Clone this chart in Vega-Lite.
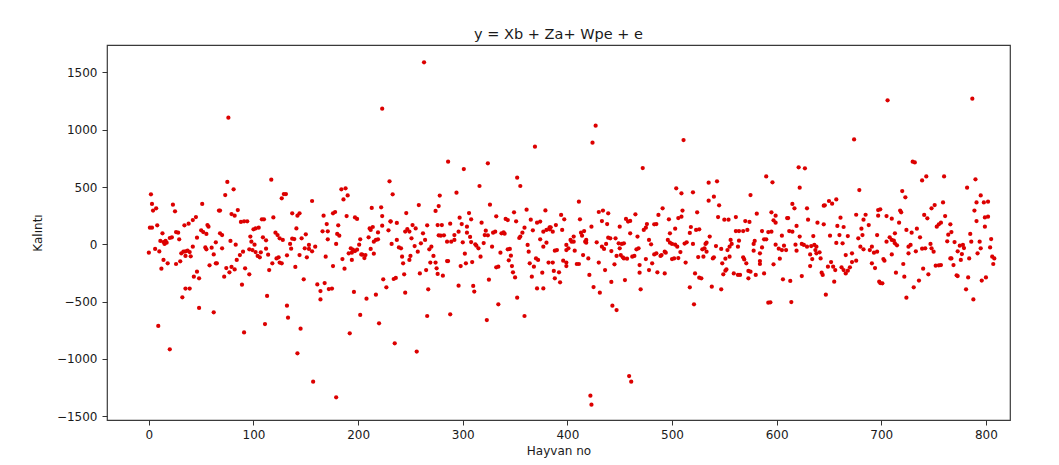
{
"$schema": "https://vega.github.io/schema/vega-lite/v6.json",
"width": 903,
"height": 375,
"autosize": {"type": "none"},
"padding": {"left": 107, "top": 45, "right": 49, "bottom": 45},
"background": "white",
"title": {"text": "y = Xb + Za+ Wpe + e", "font": "DejaVu Sans", "fontSize": 14.5, "fontWeight": "normal", "color": "#1a1a1a", "baseline": "alphabetic", "offset": -8, "anchor": "middle"},
"data": {"values": [
{"n":2,"k":436},{"n":3,"k":352},{"n":4,"k":294},{"n":7,"k":314},{"n":1,"k":145},{"n":3,"k":145},{"n":8,"k":166},{"n":0,"k":-73},{"n":6,"k":-41},{"n":10,"k":-62},{"n":13,"k":96},{"n":11,"k":29},{"n":14,"k":20},{"n":16,"k":29},{"n":17,"k":14},{"n":15,"k":3},{"n":20,"k":55},{"n":22,"k":61},{"n":23,"k":346},{"n":25,"k":288},{"n":26,"k":107},{"n":28,"k":101},{"n":29,"k":43},{"n":12,"k":-213},{"n":14,"k":-137},{"n":18,"k":-166},{"n":26,"k":-172},{"n":30,"k":-149},{"n":31,"k":-79},{"n":33,"k":-65},{"n":35,"k":-102},{"n":37,"k":-56},{"n":39,"k":-68},{"n":35,"k":-62},{"n":40,"k":-105},{"n":42,"k":-21},{"n":34,"k":166},{"n":38,"k":180},{"n":42,"k":212},{"n":45,"k":238},{"n":46,"k":58},{"n":50,"k":122},{"n":52,"k":107},{"n":55,"k":90},{"n":56,"k":168},{"n":57,"k":154},{"n":51,"k":352},{"n":46,"k":-239},{"n":43,"k":-283},{"n":48,"k":-297},{"n":39,"k":-387},{"n":35,"k":-387},{"n":32,"k":-463},{"n":48,"k":-556},{"n":9,"k":-713},{"n":20,"k":-917},{"n":54,"k":-27},{"n":55,"k":-44},{"n":60,"k":-30},{"n":62,"k":-88},{"n":64,"k":17},{"n":58,"k":-184},{"n":64,"k":-166},{"n":65,"k":-166},{"n":62,"k":-594},{"n":67,"k":294},{"n":68,"k":96},
{"n":76,"k":1105},{"n":75,"k":544},{"n":81,"k":480},{"n":73,"k":430},{"n":68,"k":294},{"n":79,"k":264},{"n":82,"k":250},{"n":85,"k":299},{"n":70,"k":81},{"n":70,"k":-35},{"n":78,"k":29},{"n":83,"k":-3},{"n":74,"k":-207},{"n":72,"k":-283},{"n":77,"k":-245},{"n":79,"k":-198},{"n":82,"k":-219},{"n":84,"k":-137},{"n":87,"k":-94},{"n":90,"k":-65},{"n":89,"k":-353},{"n":92,"k":-210},{"n":96,"k":-262},{"n":91,"k":-769},{"n":88,"k":195},{"n":91,"k":201},{"n":94,"k":201},{"n":97,"k":67},{"n":98,"k":23},{"n":96,"k":-44},{"n":100,"k":131},{"n":102,"k":139},{"n":105,"k":145},{"n":101,"k":-3},{"n":99,"k":-50},{"n":102,"k":-68},{"n":104,"k":-102},{"n":106,"k":-114},{"n":107,"k":-70},{"n":109,"k":61},{"n":112,"k":35},{"n":108,"k":218},{"n":110,"k":218},{"n":112,"k":-38},{"n":114,"k":-91},{"n":115,"k":-225},{"n":113,"k":-451},{"n":111,"k":-696},{"n":117,"k":564},{"n":119,"k":235},{"n":121,"k":101},{"n":123,"k":81},{"n":125,"k":52},{"n":128,"k":38},{"n":124,"k":-114},{"n":122,"k":-123},{"n":118,"k":-166},{"n":125,"k":-160},{"n":127,"k":-166},{"n":127,"k":401},{"n":129,"k":439},{"n":131,"k":439},{"n":132,"k":-536},{"n":133,"k":-641},{"n":132,"k":-96},{"n":135,"k":3},{"n":136,"k":-38},{"n":137,"k":49},{"n":139,"k":46},{"n":140,"k":-198},{"n":137,"k":270},{"n":142,"k":250},{"n":144,"k":270},{"n":141,"k":139},{"n":144,"k":-94},{"n":146,"k":52},{"n":145,"k":-737},{"n":142,"k":-952},{"n":148,"k":-306},{"n":150,"k":87},{"n":149,"k":-35},{"n":151,"k":-114},{"n":153,"k":-6},{"n":153,"k":-41},{"n":156,"k":-61},{"n":156,"k":378},{"n":157,"k":-1199},{"n":159,"k":-21},{"n":161,"k":-350},{"n":164,"k":-408},{"n":164,"k":-481},{"n":168,"k":-338},{"n":167,"k":250},{"n":170,"k":177},{"n":171,"k":43},{"n":171,"k":113},{"n":166,"k":113},{"n":169,"k":-108},{"n":172,"k":-391},
{"n":263,"k":1589},{"n":223,"k":1184},{"n":230,"k":550},{"n":233,"k":436},{"n":184,"k":480},{"n":188,"k":489},{"n":186,"k":392},{"n":190,"k":427},{"n":176,"k":270},{"n":178,"k":282},{"n":181,"k":166},{"n":180,"k":90},{"n":182,"k":75},{"n":179,"k":3},{"n":189,"k":247},{"n":197,"k":235},{"n":199,"k":221},{"n":213,"k":317},{"n":222,"k":323},{"n":223,"k":247},{"n":231,"k":201},{"n":237,"k":186},{"n":246,"k":273},{"n":258,"k":343},{"n":195,"k":-47},{"n":194,"k":-73},{"n":193,"k":-35},{"n":191,"k":-79},{"n":194,"k":-137},{"n":185,"k":-129},{"n":187,"k":-213},{"n":176,"k":-190},{"n":175,"k":-387},{"n":196,"k":-416},{"n":192,"k":-777},{"n":202,"k":-617},{"n":179,"k":-1336},{"n":199,"k":-47},{"n":197,"k":-59},{"n":201,"k":-3},{"n":202,"k":43},{"n":204,"k":-91},{"n":203,"k":-88},{"n":206,"k":-120},{"n":207,"k":-94},{"n":208,"k":-475},{"n":210,"k":61},{"n":211,"k":139},{"n":212,"k":125},{"n":214,"k":151},{"n":212,"k":-41},{"n":215,"k":23},{"n":215,"k":-82},{"n":217,"k":38},{"n":219,"k":43},{"n":220,"k":-690},{"n":217,"k":-440},{"n":219,"k":104},{"n":223,"k":163},{"n":224,"k":-306},{"n":227,"k":-376},{"n":229,"k":122},{"n":231,"k":198},{"n":232,"k":3},{"n":234,"k":-303},{"n":236,"k":-294},{"n":235,"k":-865},{"n":237,"k":38},{"n":239,"k":-27},{"n":241,"k":-35},{"n":242,"k":-108},{"n":243,"k":-166},{"n":245,"k":111},{"n":247,"k":133},{"n":249,"k":111},{"n":244,"k":-262},{"n":245,"k":-422},{"n":251,"k":52},{"n":250,"k":-102},{"n":249,"k":-137},{"n":252,"k":168},{"n":255,"k":139},{"n":254,"k":-15},{"n":257,"k":-64},{"n":260,"k":9},{"n":259,"k":-254},{"n":256,"k":-937},{"n":262,"k":96},{"n":264,"k":38},{"n":265,"k":-225},{"n":266,"k":166},{"n":266,"k":-626},{"n":268,"k":-44},{"n":270,"k":-21},{"n":272,"k":-102},{"n":267,"k":-393},{"n":269,"k":-160},{"n":274,"k":-160},{"n":275,"k":-210},{"n":276,"k":-259},{"n":278,"k":425},{"n":277,"k":334},{"n":274,"k":291},{"n":277,"k":78},{"n":276,"k":168},
{"n":369,"k":852},{"n":286,"k":721},{"n":301,"k":657},{"n":324,"k":707},{"n":352,"k":582},{"n":355,"k":509},{"n":316,"k":509},{"n":294,"k":451},{"n":326,"k":346},{"n":306,"k":273},{"n":297,"k":232},{"n":308,"k":218},{"n":280,"k":168},{"n":288,"k":180},{"n":299,"k":177},{"n":318,"k":189},{"n":332,"k":244},{"n":341,"k":221},{"n":343,"k":212},{"n":349,"k":279},{"n":351,"k":201},{"n":361,"k":302},{"n":365,"k":215},{"n":371,"k":189},{"n":374,"k":198},{"n":379,"k":296},{"n":282,"k":78},{"n":279,"k":75},{"n":292,"k":81},{"n":296,"k":110},{"n":304,"k":154},{"n":304,"k":101},{"n":307,"k":64},{"n":322,"k":119},{"n":324,"k":78},{"n":321,"k":81},{"n":329,"k":101},{"n":331,"k":110},{"n":337,"k":96},{"n":339,"k":104},{"n":340,"k":93},{"n":354,"k":55},{"n":355,"k":67},{"n":357,"k":101},{"n":359,"k":145},{"n":367,"k":122},{"n":374,"k":43},{"n":377,"k":110},{"n":380,"k":125},{"n":383,"k":148},{"n":285,"k":23},{"n":289,"k":23},{"n":292,"k":38},{"n":300,"k":17},{"n":308,"k":20},{"n":312,"k":0},{"n":313,"k":-12},{"n":315,"k":-35},{"n":320,"k":11},{"n":328,"k":-21},{"n":362,"k":-6},{"n":377,"k":-21},{"n":380,"k":14},{"n":281,"k":-274},{"n":285,"k":-146},{"n":286,"k":-146},{"n":302,"k":-82},{"n":309,"k":-155},{"n":303,"k":-166},{"n":298,"k":-190},{"n":317,"k":-108},{"n":336,"k":-73},{"n":343,"k":-44},{"n":345,"k":-41},{"n":346,"k":-99},{"n":344,"k":-140},{"n":347,"k":-190},{"n":348,"k":-245},{"n":350,"k":-289},{"n":363,"k":-64},{"n":364,"k":-166},{"n":370,"k":-123},{"n":372,"k":-137},{"n":368,"k":-195},{"n":366,"k":-283},{"n":376,"k":-248},{"n":382,"k":-160},{"n":332,"k":-201},{"n":334,"k":-195},{"n":325,"k":-309},{"n":334,"k":-524},{"n":296,"k":-361},{"n":310,"k":-364},{"n":311,"k":-413},{"n":352,"k":-466},{"n":288,"k":-611},{"n":323,"k":-661},{"n":359,"k":-626},{"n":371,"k":-385},{"n":377,"k":-385},
{"n":427,"k":1036},{"n":424,"k":887},{"n":472,"k":666},{"n":411,"k":372},{"n":394,"k":256},{"n":397,"k":218},{"n":430,"k":282},{"n":434,"k":294},{"n":439,"k":270},{"n":433,"k":203},{"n":438,"k":177},{"n":412,"k":218},{"n":423,"k":154},{"n":456,"k":221},{"n":458,"k":198},{"n":460,"k":204},{"n":465,"k":262},{"n":476,"k":177},{"n":483,"k":174},{"n":485,"k":177},{"n":487,"k":256},{"n":473,"k":125},{"n":475,"k":145},{"n":450,"k":154},{"n":389,"k":168},{"n":384,"k":148},{"n":383,"k":131},{"n":386,"k":110},{"n":395,"k":125},{"n":406,"k":67},{"n":413,"k":101},{"n":414,"k":75},{"n":416,"k":116},{"n":418,"k":38},{"n":417,"k":23},{"n":418,"k":14},{"n":428,"k":17},{"n":433,"k":-21},{"n":435,"k":-41},{"n":437,"k":3},{"n":439,"k":58},{"n":441,"k":52},{"n":446,"k":52},{"n":449,"k":9},{"n":452,"k":3},{"n":454,"k":9},{"n":450,"k":-35},{"n":460,"k":96},{"n":467,"k":67},{"n":466,"k":-44},{"n":468,"k":-35},{"n":478,"k":38},{"n":480,"k":0},{"n":485,"k":-79},{"n":483,"k":-88},{"n":403,"k":38},{"n":404,"k":23},{"n":406,"k":23},{"n":399,"k":-6},{"n":401,"k":-35},{"n":399,"k":-50},{"n":407,"k":-56},{"n":415,"k":-94},{"n":420,"k":-123},{"n":442,"k":-59},{"n":447,"k":-102},{"n":451,"k":-94},{"n":453,"k":-114},{"n":454,"k":-123},{"n":457,"k":-126},{"n":462,"k":-108},{"n":464,"k":-102},{"n":475,"k":-129},{"n":481,"k":-166},{"n":469,"k":-181},{"n":388,"k":-56},{"n":390,"k":-50},{"n":396,"k":-143},{"n":399,"k":-160},{"n":399,"k":-190},{"n":386,"k":-160},{"n":387,"k":-233},{"n":392,"k":-245},{"n":409,"k":-172},{"n":411,"k":-172},{"n":430,"k":-160},{"n":436,"k":-225},{"n":445,"k":-175},{"n":469,"k":-248},{"n":478,"k":-225},{"n":486,"k":-245},{"n":388,"k":-297},{"n":393,"k":-332},{"n":421,"k":-268},{"n":425,"k":-373},{"n":431,"k":-422},{"n":442,"k":-329},{"n":455,"k":-312},{"n":470,"k":-393},{"n":443,"k":-536},{"n":447,"k":-574},{"n":422,"k":-1322},{"n":423,"k":-1400},{"n":459,"k":-1150},{"n":461,"k":-1199},
{"n":511,"k":910},{"n":504,"k":489},{"n":509,"k":445},{"n":520,"k":454},{"n":535,"k":538},{"n":543,"k":550},{"n":590,"k":593},{"n":575,"k":430},{"n":540,"k":416},{"n":535,"k":381},{"n":545,"k":340},{"n":491,"k":314},{"n":510,"k":294},{"n":506,"k":229},{"n":509,"k":241},{"n":497,"k":218},{"n":524,"k":279},{"n":544,"k":238},{"n":550,"k":215},{"n":554,"k":215},{"n":561,"k":238},{"n":570,"k":203},{"n":574,"k":195},{"n":581,"k":267},{"n":503,"k":136},{"n":498,"k":96},{"n":518,"k":151},{"n":517,"k":99},{"n":523,"k":125},{"n":526,"k":131},{"n":536,"k":67},{"n":561,"k":116},{"n":564,"k":116},{"n":568,"k":116},{"n":572,"k":125},{"n":586,"k":116},{"n":592,"k":107},{"n":588,"k":43},{"n":590,"k":43},{"n":579,"k":29},{"n":578,"k":3},{"n":564,"k":32},{"n":556,"k":38},{"n":557,"k":3},{"n":563,"k":-21},{"n":553,"k":-50},{"n":555,"k":-21},{"n":547,"k":-41},{"n":542,"k":-15},{"n":533,"k":14},{"n":532,"k":3},{"n":531,"k":-35},{"n":533,"k":-65},{"n":529,"k":-44},{"n":514,"k":17},{"n":512,"k":6},{"n":520,"k":3},{"n":496,"k":38},{"n":498,"k":14},{"n":500,"k":3},{"n":503,"k":-3},{"n":505,"k":-21},{"n":508,"k":-68},{"n":586,"k":-27},{"n":578,"k":-56},{"n":584,"k":-79},{"n":489,"k":-102},{"n":490,"k":-94},{"n":493,"k":-65},{"n":494,"k":-73},{"n":500,"k":-129},{"n":502,"k":-123},{"n":506,"k":-120},{"n":513,"k":-160},{"n":525,"k":-111},{"n":530,"k":-108},{"n":539,"k":-123},{"n":540,"k":-114},{"n":555,"k":-108},{"n":551,"k":-126},{"n":568,"k":-114},{"n":569,"k":-132},{"n":571,"k":-166},{"n":584,"k":-146},{"n":584,"k":-172},{"n":548,"k":-166},{"n":549,"k":-262},{"n":551,"k":-230},{"n":552,"k":-219},{"n":559,"k":-254},{"n":563,"k":-268},{"n":565,"k":-268},{"n":573,"k":-233},{"n":575,"k":-239},{"n":573,"k":-297},{"n":580,"k":-268},{"n":588,"k":-254},{"n":522,"k":-254},{"n":526,"k":-291},{"n":528,"k":-297},{"n":538,"k":-370},{"n":547,"k":-393},{"n":517,"k":-376},{"n":521,"k":-524},{"n":493,"k":-254},{"n":592,"k":-510},
{"n":674,"k":916},{"n":621,"k":672},{"n":627,"k":663},{"n":596,"k":541},{"n":622,"k":494},{"n":679,"k":474},{"n":615,"k":352},{"n":617,"k":314},{"n":629,"k":314},{"n":595,"k":279},{"n":599,"k":250},{"n":597,"k":209},{"n":599,"k":189},{"n":610,"k":229},{"n":611,"k":229},{"n":630,"k":215},{"n":645,"k":337},{"n":646,"k":340},{"n":650,"k":378},{"n":653,"k":355},{"n":657,"k":392},{"n":645,"k":174},{"n":639,"k":189},{"n":661,"k":232},{"n":676,"k":258},{"n":681,"k":136},{"n":685,"k":258},{"n":683,"k":215},{"n":688,"k":168},{"n":697,"k":299},{"n":697,"k":250},{"n":658,"k":160},{"n":664,"k":151},{"n":619,"k":160},{"n":612,"k":116},{"n":615,"k":110},{"n":605,"k":75},{"n":595,"k":110},{"n":599,"k":-3},{"n":602,"k":-38},{"n":605,"k":-50},{"n":607,"k":-12},{"n":609,"k":-50},{"n":618,"k":-3},{"n":619,"k":-56},{"n":622,"k":67},{"n":624,"k":3},{"n":626,"k":-6},{"n":629,"k":-21},{"n":633,"k":-15},{"n":635,"k":72},{"n":636,"k":-6},{"n":638,"k":-21},{"n":637,"k":-50},{"n":638,"k":-79},{"n":641,"k":-70},{"n":632,"k":-88},{"n":634,"k":-129},{"n":642,"k":-123},{"n":651,"k":75},{"n":657,"k":12},{"n":660,"k":81},{"n":663,"k":9},{"n":668,"k":72},{"n":666,"k":-94},{"n":672,"k":-79},{"n":678,"k":52},{"n":682,"k":81},{"n":680,"k":-21},{"n":683,"k":-44},{"n":689,"k":-50},{"n":691,"k":-21},{"n":693,"k":-73},{"n":696,"k":81},{"n":696,"k":-65},{"n":691,"k":-166},{"n":694,"k":-207},{"n":698,"k":-326},{"n":597,"k":-175},{"n":603,"k":-126},{"n":606,"k":-306},{"n":613,"k":-320},{"n":624,"k":-277},{"n":632,"k":-190},{"n":643,"k":-248},{"n":644,"k":-268},{"n":649,"k":-195},{"n":652,"k":-155},{"n":654,"k":-195},{"n":656,"k":-225},{"n":662,"k":-201},{"n":664,"k":-225},{"n":666,"k":-254},{"n":668,"k":-230},{"n":670,"k":-201},{"n":672,"k":-155},{"n":676,"k":-143},{"n":655,"k":-326},{"n":647,"k":-440},{"n":594,"k":-507},{"n":614,"k":-504},
{"n":706,"k":1257},{"n":787,"k":1271},{"n":730,"k":721},{"n":732,"k":715},{"n":739,"k":558},{"n":743,"k":593},{"n":760,"k":593},{"n":782,"k":494},{"n":790,"k":567},{"n":720,"k":465},{"n":723,"k":410},{"n":795,"k":427},{"n":791,"k":366},{"n":798,"k":366},{"n":802,"k":372},{"n":699,"k":305},{"n":718,"k":294},{"n":719,"k":279},{"n":705,"k":247},{"n":710,"k":224},{"n":717,"k":189},{"n":724,"k":125},{"n":729,"k":101},{"n":734,"k":136},{"n":741,"k":256},{"n":744,"k":227},{"n":748,"k":314},{"n":751,"k":343},{"n":759,"k":366},{"n":761,"k":247},{"n":755,"k":174},{"n":757,"k":189},{"n":753,"k":154},{"n":766,"k":174},{"n":767,"k":107},{"n":764,"k":84},{"n":785,"k":90},{"n":789,"k":294},{"n":791,"k":203},{"n":799,"k":235},{"n":802,"k":241},{"n":799,"k":154},{"n":805,"k":46},{"n":794,"k":23},{"n":795,"k":-35},{"n":804,"k":-27},{"n":705,"k":23},{"n":708,"k":61},{"n":710,"k":38},{"n":712,"k":32},{"n":713,"k":9},{"n":713,"k":96},{"n":715,"k":-9},{"n":726,"k":-21},{"n":728,"k":-6},{"n":733,"k":-61},{"n":737,"k":61},{"n":739,"k":-38},{"n":742,"k":-35},{"n":747,"k":3},{"n":748,"k":-35},{"n":750,"k":-64},{"n":763,"k":26},{"n":770,"k":20},{"n":773,"k":-61},{"n":775,"k":-12},{"n":778,"k":-6},{"n":779,"k":-33},{"n":777,"k":-85},{"n":784,"k":-123},{"n":786,"k":23},{"n":792,"k":-79},{"n":806,"k":-108},{"n":808,"k":-123},{"n":807,"k":-172},{"n":702,"k":-129},{"n":703,"k":-143},{"n":710,"k":-88},{"n":714,"k":-248},{"n":721,"k":-172},{"n":722,"k":-283},{"n":726,"k":-79},{"n":731,"k":-376},{"n":736,"k":-317},{"n":724,"k":-466},{"n":740,"k":-213},{"n":745,"k":-262},{"n":752,"k":-187},{"n":755,"k":-184},{"n":757,"k":-181},{"n":766,"k":-123},{"n":767,"k":-123},{"n":769,"k":-181},{"n":772,"k":-271},{"n":773,"k":-277},{"n":776,"k":-137},{"n":781,"k":-393},{"n":783,"k":-289},{"n":788,"k":-481},{"n":796,"k":-317},{"n":800,"k":-289},{"n":699,"k":-338},{"n":701,"k":-341}
]},
"mark": {"type": "point", "filled": true, "shape": "circle", "size": 18, "color": "#dc0000", "opacity": 1},
"encoding": {
  "x": {"field": "n", "type": "quantitative", "title": "Hayvan no",
        "scale": {"domain": [-40, 823], "nice": false, "zero": false},
        "axis": {"values": [0, 100, 200, 300, 400, 500, 600, 700, 800], "format": "d", "titlePadding": 5}},
  "y": {"field": "k", "type": "quantitative", "title": "Kalıntı",
        "scale": {"domain": [-1534, 1740], "nice": false, "zero": false},
        "axis": {"values": [-1500, -1000, -500, 0, 500, 1000, 1500], "format": "d", "titlePadding": 12}}
},
"config": {
  "view": {"stroke": "#3a3a3a", "strokeWidth": 1.2},
  "axis": {"domain": false, "grid": false, "ticks": true, "tickColor": "#333", "tickSize": 5, "tickWidth": 1,
           "labelFont": "DejaVu Sans", "labelFontSize": 12, "labelColor": "#1a1a1a", "labelPadding": 4,
           "titleFont": "DejaVu Sans", "titleFontSize": 12, "titleFontWeight": "normal", "titleColor": "#1a1a1a"},
  "axisY": {"labelPadding": 5}
}
}
